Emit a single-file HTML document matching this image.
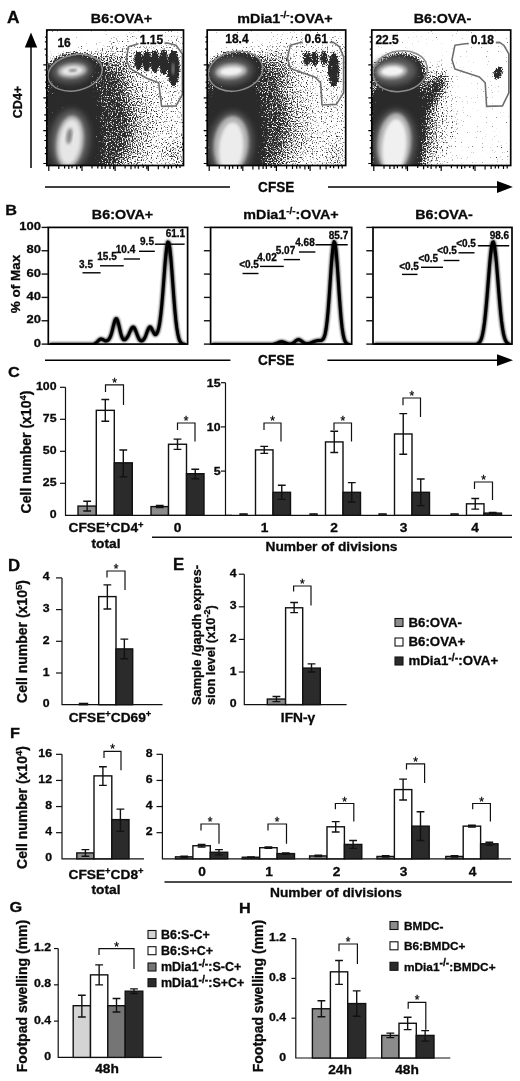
<!DOCTYPE html><html><head><meta charset="utf-8"><style>html,body{margin:0;padding:0;background:#fff}svg{display:block;opacity:0.999}text{font-family:"Liberation Sans",sans-serif;fill:#0a0a0a;stroke:#0a0a0a;stroke-width:.3px}</style></head><body>
<svg width="520" height="1081" viewBox="0 0 520 1081">
<rect width="520" height="1081" fill="#fff"/>
<!--A-->
<defs>
<filter id="thr0" filterUnits="userSpaceOnUse" x="46.8" y="30.0" width="136.7" height="135.5" color-interpolation-filters="sRGB"><feTurbulence type="fractalNoise" baseFrequency="0.8" numOctaves="1" seed="3" result="n"/><feColorMatrix in="n" type="matrix" values="0 0 0 0 0 0 0 0 0 0 0 0 0 0 0 1 0 0 0 0" result="na"/><feComposite in="SourceGraphic" in2="na" operator="arithmetic" k1="0" k2="3.9" k3="6" k4="-4.3" result="t"/><feGaussianBlur in="t" stdDeviation="0.35" result="t2"/><feFlood flood-color="#2a2a2a"/><feComposite operator="in" in2="t2"/></filter>
<filter id="thr1" filterUnits="userSpaceOnUse" x="207.2" y="30.0" width="138.5" height="135.5" color-interpolation-filters="sRGB"><feTurbulence type="fractalNoise" baseFrequency="0.8" numOctaves="1" seed="10" result="n"/><feColorMatrix in="n" type="matrix" values="0 0 0 0 0 0 0 0 0 0 0 0 0 0 0 1 0 0 0 0" result="na"/><feComposite in="SourceGraphic" in2="na" operator="arithmetic" k1="0" k2="3.9" k3="6" k4="-4.3" result="t"/><feGaussianBlur in="t" stdDeviation="0.35" result="t2"/><feFlood flood-color="#2a2a2a"/><feComposite operator="in" in2="t2"/></filter>
<filter id="thr2" filterUnits="userSpaceOnUse" x="371.8" y="30.0" width="138.9" height="135.5" color-interpolation-filters="sRGB"><feTurbulence type="fractalNoise" baseFrequency="0.8" numOctaves="1" seed="17" result="n"/><feColorMatrix in="n" type="matrix" values="0 0 0 0 0 0 0 0 0 0 0 0 0 0 0 1 0 0 0 0" result="na"/><feComposite in="SourceGraphic" in2="na" operator="arithmetic" k1="0" k2="3.9" k3="6" k4="-4.3" result="t"/><feGaussianBlur in="t" stdDeviation="0.35" result="t2"/><feFlood flood-color="#2a2a2a"/><feComposite operator="in" in2="t2"/></filter>
<filter id="ba" x="-50%" y="-50%" width="200%" height="200%"><feGaussianBlur stdDeviation="7"/></filter><filter id="bb" x="-50%" y="-50%" width="200%" height="200%"><feGaussianBlur stdDeviation="3.5"/></filter><filter id="bc" x="-50%" y="-50%" width="200%" height="200%"><feGaussianBlur stdDeviation="1.1"/></filter>
<filter id="bl4" x="-50%" y="-50%" width="200%" height="200%"><feGaussianBlur stdDeviation="3.2"/></filter><filter id="bl2"><feGaussianBlur stdDeviation="1.6"/></filter><filter id="bl1"><feGaussianBlur stdDeviation="0.9"/></filter>
</defs>
<clipPath id="cpA0"><rect x="46.8" y="30.0" width="136.7" height="135.5"/></clipPath>
<g clip-path="url(#cpA0)">
<g filter="url(#thr0)">
<g filter="url(#ba)">
<polygon points="40.5,97.2 92.4,48.2 127.0,33.7 190.4,33.7 190.4,175.1 40.5,175.1" fill="#000" opacity="0.2"/>
<ellipse cx="78.0" cy="123.2" rx="53.4" ry="62.0" fill="#1e1e1e" opacity="0.45" />
<ellipse cx="83.7" cy="123.2" rx="70.7" ry="69.2" fill="#1e1e1e" opacity="0.2" />
<ellipse cx="114.0" cy="68.4" rx="17.3" ry="17.3" fill="#1e1e1e" opacity="0.25" />
<ellipse cx="174.6" cy="154.9" rx="7.2" ry="17.3" fill="#1e1e1e" opacity="0.3" />
</g>
<g filter="url(#bb)">
<ellipse cx="72.8" cy="71.8" rx="26.5" ry="17.9" transform="rotate(-8 72.8 71.8)" fill="#1e1e1e" opacity="1.0" />
<ellipse cx="69.3" cy="137.6" rx="24.5" ry="40.4" fill="#1e1e1e" opacity="1.0" />
<ellipse cx="75.1" cy="111.6" rx="23.1" ry="31.7" fill="#1e1e1e" opacity="0.9" />
<polygon points="46.8,91.4 95.3,91.4 99.6,120.3 98.1,169.3 46.8,169.3" fill="#1e1e1e" opacity="1.0"/>
</g>
<g filter="url(#bc)">
<ellipse cx="138.5" cy="60.6" rx="3.9" ry="8.9" fill="#1e1e1e" opacity="1" />
<ellipse cx="146.6" cy="60.9" rx="3.7" ry="10.4" fill="#1e1e1e" opacity="1" />
<ellipse cx="155.0" cy="61.4" rx="3.9" ry="11.2" fill="#1e1e1e" opacity="1" />
<ellipse cx="163.6" cy="62.3" rx="3.6" ry="12.7" fill="#1e1e1e" opacity="1" />
<ellipse cx="173.4" cy="68.1" rx="5.8" ry="17.6" fill="#1e1e1e" opacity="1" />
</g>
</g>
<ellipse cx="71.6" cy="70.7" rx="20.2" ry="12.1" transform="rotate(-5 71.6 70.7)" fill="#606060" opacity="1" filter="url(#bl4)"/>
<ellipse cx="69.9" cy="140.5" rx="19.6" ry="31.2" transform="rotate(6 69.9 140.5)" fill="#606060" opacity="1" filter="url(#bl4)"/>
<ellipse cx="72.2" cy="70.7" rx="14.4" ry="7.2" transform="rotate(-5 72.2 70.7)" fill="#b4b4b4" opacity="1" filter="url(#bl2)"/>
<ellipse cx="72.2" cy="70.7" rx="10.4" ry="4.3" transform="rotate(-5 72.2 70.7)" fill="#e8e8e8" opacity="1" filter="url(#bl1)"/>
<ellipse cx="72.8" cy="70.4" rx="4.3" ry="1.4" transform="rotate(-5 72.8 70.4)" fill="#858585" opacity="1" filter="url(#bl1)"/>
<ellipse cx="69.9" cy="141.9" rx="13.8" ry="26.5" transform="rotate(7 69.9 141.9)" fill="#b8b8b8" opacity="1" filter="url(#bl2)"/>
<ellipse cx="69.9" cy="141.9" rx="10.4" ry="22.5" transform="rotate(7 69.9 141.9)" fill="#e6e6e6" opacity="1" filter="url(#bl2)"/>
<ellipse cx="69.3" cy="136.1" rx="2.9" ry="8.1" transform="rotate(8 69.3 136.1)" fill="#858585" opacity="1" filter="url(#bl2)"/>
<ellipse cx="173.1" cy="68.9" rx="1.4" ry="6.3" fill="#777" opacity="1" filter="url(#bl1)"/>
<ellipse cx="75.1" cy="72.7" rx="27.4" ry="17.9" transform="rotate(-12 75.1 72.7)" fill="none" stroke="#8c8c8c" stroke-width="1.5"/>
<polygon points="138.5,43.8 128.4,46.7 126.4,59.7 129.9,68.4 147.2,78.5 158.7,82.8 161.6,106.4 176.0,105.9 182.4,94.3 182.4,53.9 176.0,45.3 167.4,43.0" fill="none" stroke="#6e6e6e" stroke-width="1.6" stroke-linejoin="round"/>
<text font-size="12" text-anchor="middle" font-weight="bold" transform="translate(64.1 47.3) scale(1.0 1)" >16</text>
<rect x="138.5" y="34.6" width="26" height="11" fill="#fff"/>
<text font-size="12" text-anchor="middle" font-weight="bold" transform="translate(151.5 44.4) scale(1.0 1)" >1.15</text>
</g>
<rect x="46.8" y="30.0" width="136.7" height="135.5" fill="none" stroke="#000" stroke-width="1.7"/>
<path d="M48.8 165.5v5.5M58.8 165.5v3.4M64.6 165.5v3.1M68.8 165.5v3.4M72.0 165.5v2.8M76.8 165.5v3.7M80.5 165.5v2.7M46.8 163.5h-3.5M46.8 153.6h-2.0M46.8 147.8h-1.8M46.8 140.5h-2.5M46.8 135.7h-1.5M82.0 165.5v5.5M92.0 165.5v3.1M97.8 165.5v2.9M101.9 165.5v3.5M105.2 165.5v3.2M110.0 165.5v3.5M113.6 165.5v3.7M46.8 130.6h-3.5M46.8 120.7h-2.5M46.8 114.9h-2.5M46.8 107.6h-1.5M46.8 102.8h-1.6M115.1 165.5v5.5M125.1 165.5v3.0M131.0 165.5v3.8M135.1 165.5v3.0M138.3 165.5v3.3M143.2 165.5v2.6M146.8 165.5v3.8M46.8 97.8h-3.5M46.8 87.9h-1.7M46.8 82.1h-1.7M46.8 74.8h-1.5M46.8 70.0h-2.3M148.3 165.5v5.5M158.3 165.5v3.8M164.2 165.5v2.7M168.3 165.5v3.4M171.5 165.5v3.1M176.4 165.5v2.7M180.0 165.5v2.6M46.8 64.9h-3.5M46.8 55.0h-1.7M46.8 49.2h-2.3M46.8 41.9h-1.9M46.8 37.1h-1.7" stroke="#000" stroke-width="1.2" fill="none"/>
<clipPath id="cpA1"><rect x="207.2" y="30.0" width="138.5" height="135.5"/></clipPath>
<g clip-path="url(#cpA1)">
<g filter="url(#thr1)">
<g filter="url(#ba)">
<polygon points="200.9,97.2 252.8,48.2 287.4,33.7 350.8,33.7 350.8,175.1 200.9,175.1" fill="#000" opacity="0.2"/>
<ellipse cx="241.2" cy="123.2" rx="46.1" ry="62.0" fill="#1e1e1e" opacity="0.42" />
<ellipse cx="247.0" cy="123.2" rx="63.5" ry="69.2" fill="#1e1e1e" opacity="0.2" />
<ellipse cx="275.8" cy="68.4" rx="17.3" ry="17.3" fill="#1e1e1e" opacity="0.25" />
<ellipse cx="336.4" cy="154.9" rx="6.3" ry="17.3" fill="#1e1e1e" opacity="0.25" />
</g>
<g filter="url(#bb)">
<ellipse cx="234.0" cy="71.2" rx="27.4" ry="18.7" transform="rotate(-8 234.0 71.2)" fill="#1e1e1e" opacity="1.0" />
<ellipse cx="232.6" cy="140.5" rx="26.0" ry="40.4" fill="#1e1e1e" opacity="1.0" />
<ellipse cx="236.9" cy="111.6" rx="23.7" ry="31.7" fill="#1e1e1e" opacity="0.9" />
<polygon points="207.2,91.4 255.7,91.4 262.0,120.3 260.8,169.3 207.2,169.3" fill="#1e1e1e" opacity="1.0"/>
</g>
<g filter="url(#bc)">
<ellipse cx="307.0" cy="58.6" rx="3.7" ry="7.2" fill="#1e1e1e" opacity="0.75" />
<ellipse cx="314.8" cy="58.6" rx="3.7" ry="7.2" fill="#1e1e1e" opacity="0.75" />
<ellipse cx="324.0" cy="58.0" rx="3.7" ry="7.2" fill="#1e1e1e" opacity="0.75" />
<ellipse cx="333.8" cy="69.8" rx="5.5" ry="16.7" fill="#1e1e1e" opacity="0.85" />
</g>
</g>
<ellipse cx="231.1" cy="71.2" rx="21.6" ry="13.0" transform="rotate(-5 231.1 71.2)" fill="#606060" opacity="1" filter="url(#bl4)"/>
<ellipse cx="231.1" cy="144.8" rx="21.6" ry="33.2" transform="rotate(5 231.1 144.8)" fill="#606060" opacity="1" filter="url(#bl4)"/>
<ellipse cx="231.1" cy="71.2" rx="15.6" ry="7.5" transform="rotate(-5 231.1 71.2)" fill="#b8b8b8" opacity="1" filter="url(#bl2)"/>
<ellipse cx="231.1" cy="71.2" rx="11.0" ry="4.0" transform="rotate(-5 231.1 71.2)" fill="#f2f2f2" opacity="1" filter="url(#bl1)"/>
<ellipse cx="231.1" cy="144.8" rx="17.3" ry="28.8" transform="rotate(5 231.1 144.8)" fill="#b4b4b4" opacity="1" filter="url(#bl2)"/>
<ellipse cx="231.1" cy="147.7" rx="12.1" ry="25.4" transform="rotate(5 231.1 147.7)" fill="#ececec" opacity="1" filter="url(#bl2)"/>
<ellipse cx="235.5" cy="71.2" rx="27.4" ry="19.6" transform="rotate(-12 235.5 71.2)" fill="none" stroke="#8c8c8c" stroke-width="1.5"/>
<polygon points="300.4,42.4 290.3,45.3 287.4,58.3 290.3,68.4 314.8,77.0 320.6,82.8 322.0,105.0 336.4,104.4 343.6,92.9 343.6,56.8 339.3,46.7 333.5,42.4" fill="none" stroke="#6e6e6e" stroke-width="1.6" stroke-linejoin="round"/>
<text font-size="12" text-anchor="middle" font-weight="bold" transform="translate(236.9 43.2) scale(1.0 1)" >18.4</text>
<rect x="302.7" y="33.4" width="27" height="11" fill="#fff"/>
<text font-size="12" text-anchor="middle" font-weight="bold" transform="translate(316.2 43.2) scale(1.0 1)" >0.61</text>
</g>
<rect x="207.2" y="30.0" width="138.5" height="135.5" fill="none" stroke="#000" stroke-width="1.7"/>
<path d="M209.2 165.5v5.5M219.3 165.5v3.2M225.2 165.5v3.3M229.4 165.5v3.9M232.7 165.5v3.2M237.6 165.5v3.4M241.3 165.5v3.3M207.2 163.5h-3.5M207.2 153.6h-2.1M207.2 147.8h-2.3M207.2 140.5h-1.8M207.2 135.7h-2.3M242.8 165.5v5.5M252.9 165.5v4.0M258.9 165.5v3.9M263.1 165.5v3.5M266.3 165.5v3.4M271.2 165.5v2.5M274.9 165.5v2.6M207.2 130.6h-3.5M207.2 120.7h-1.7M207.2 114.9h-1.7M207.2 107.6h-2.0M207.2 102.8h-2.3M276.4 165.5v5.5M286.6 165.5v3.2M292.5 165.5v3.5M296.7 165.5v3.2M300.0 165.5v2.9M304.9 165.5v4.0M308.5 165.5v3.6M207.2 97.8h-3.5M207.2 87.9h-1.8M207.2 82.1h-1.7M207.2 74.8h-1.6M207.2 70.0h-1.9M310.1 165.5v5.5M320.2 165.5v3.9M326.1 165.5v3.8M330.3 165.5v2.5M333.6 165.5v2.8M338.5 165.5v3.2M342.2 165.5v3.1M207.2 64.9h-3.5M207.2 55.0h-1.6M207.2 49.2h-2.1M207.2 41.9h-1.8M207.2 37.1h-1.8" stroke="#000" stroke-width="1.2" fill="none"/>
<clipPath id="cpA2"><rect x="371.8" y="30.0" width="138.9" height="135.5"/></clipPath>
<g clip-path="url(#cpA2)">
<g filter="url(#thr2)">
<g filter="url(#ba)">
<polygon points="365.5,97.2 417.4,48.2 452.0,33.7 515.4,33.7 515.4,175.1 365.5,175.1" fill="#000" opacity="0.02"/>
<ellipse cx="400.1" cy="126.0" rx="36.1" ry="54.8" fill="#1e1e1e" opacity="0.4" />
<ellipse cx="403.0" cy="126.0" rx="54.8" ry="63.5" fill="#1e1e1e" opacity="0.2" />
<ellipse cx="433.2" cy="87.1" rx="21.6" ry="10.1" transform="rotate(-45 433.2 87.1)" fill="#1e1e1e" opacity="0.45" />
<ellipse cx="498.7" cy="154.9" rx="5.2" ry="11.5" fill="#1e1e1e" opacity="0.25" />
</g>
<g filter="url(#bb)">
<ellipse cx="398.6" cy="72.7" rx="26.0" ry="18.7" transform="rotate(-8 398.6 72.7)" fill="#1e1e1e" opacity="1.0" />
<ellipse cx="394.3" cy="140.5" rx="23.1" ry="40.4" fill="#1e1e1e" opacity="1.0" />
<ellipse cx="403.0" cy="111.6" rx="20.2" ry="28.8" fill="#1e1e1e" opacity="0.9" />
<ellipse cx="432.4" cy="95.8" rx="25.4" ry="5.8" transform="rotate(-60 432.4 95.8)" fill="#1e1e1e" opacity="0.4" />
<polygon points="371.8,91.4 420.3,91.4 423.1,120.3 418.8,169.3 371.8,169.3" fill="#1e1e1e" opacity="1.0"/>
</g>
<g filter="url(#bc)">
<ellipse cx="498.1" cy="73.0" rx="4.0" ry="6.9" transform="rotate(25 498.1 73.0)" fill="#1e1e1e" opacity="0.85" />
</g>
</g>
<ellipse cx="393.7" cy="71.2" rx="22.5" ry="13.8" transform="rotate(-3 393.7 71.2)" fill="#606060" opacity="1" filter="url(#bl4)"/>
<ellipse cx="394.3" cy="143.4" rx="20.8" ry="34.0" transform="rotate(5 394.3 143.4)" fill="#606060" opacity="1" filter="url(#bl4)"/>
<ellipse cx="392.3" cy="71.2" rx="15.0" ry="7.8" transform="rotate(-3 392.3 71.2)" fill="#b0b0b0" opacity="1" filter="url(#bl2)"/>
<ellipse cx="392.3" cy="71.2" rx="11.0" ry="4.6" transform="rotate(-3 392.3 71.2)" fill="#f4f4f4" opacity="1" filter="url(#bl1)"/>
<ellipse cx="394.3" cy="143.4" rx="16.7" ry="30.3" transform="rotate(5 394.3 143.4)" fill="#b4b4b4" opacity="1" filter="url(#bl2)"/>
<ellipse cx="394.3" cy="146.2" rx="12.1" ry="27.4" transform="rotate(5 394.3 146.2)" fill="#f0f0f0" opacity="1" filter="url(#bl2)"/>
<ellipse cx="400.1" cy="71.2" rx="27.4" ry="20.2" transform="rotate(-10 400.1 71.2)" fill="none" stroke="#8c8c8c" stroke-width="1.5"/>
<polygon points="465.0,43.8 454.9,45.3 452.0,59.7 454.9,68.9 479.4,77.0 485.2,82.8 486.6,106.4 502.5,105.9 508.8,92.9 508.8,53.9 503.9,45.3 499.6,42.4" fill="none" stroke="#6e6e6e" stroke-width="1.6" stroke-linejoin="round"/>
<text font-size="12" text-anchor="middle" font-weight="bold" transform="translate(387.1 43.8) scale(1.0 1)" >22.5</text>
<rect x="468.8" y="34.6" width="27" height="11" fill="#fff"/>
<text font-size="12" text-anchor="middle" font-weight="bold" transform="translate(482.3 44.4) scale(1.0 1)" >0.18</text>
</g>
<rect x="371.8" y="30.0" width="138.9" height="135.5" fill="none" stroke="#000" stroke-width="1.7"/>
<path d="M373.8 165.5v5.5M384.0 165.5v3.2M389.9 165.5v3.5M394.1 165.5v3.5M397.4 165.5v2.7M402.3 165.5v3.1M406.0 165.5v3.7M371.8 163.5h-3.5M371.8 153.6h-2.2M371.8 147.8h-2.1M371.8 140.5h-2.2M371.8 135.7h-1.9M407.5 165.5v5.5M417.7 165.5v2.6M423.6 165.5v3.7M427.8 165.5v2.6M431.1 165.5v3.5M436.0 165.5v3.1M439.7 165.5v2.5M371.8 130.6h-3.5M371.8 120.7h-1.6M371.8 114.9h-2.4M371.8 107.6h-1.6M371.8 102.8h-2.4M441.2 165.5v5.5M451.4 165.5v2.7M457.3 165.5v3.0M461.6 165.5v3.4M464.8 165.5v2.7M469.8 165.5v2.6M473.4 165.5v3.7M371.8 97.8h-3.5M371.8 87.9h-1.9M371.8 82.1h-1.9M371.8 74.8h-2.0M371.8 70.0h-1.5M475.0 165.5v5.5M485.1 165.5v4.0M491.1 165.5v3.5M495.3 165.5v3.0M498.5 165.5v3.0M503.5 165.5v3.5M507.2 165.5v2.9M371.8 64.9h-3.5M371.8 55.0h-1.9M371.8 49.2h-2.0M371.8 41.9h-2.0M371.8 37.1h-2.3" stroke="#000" stroke-width="1.2" fill="none"/>
<text font-size="16.5" text-anchor="start" font-weight="bold" transform="translate(7 23.2) scale(1.05 1)" >A</text>
<text font-size="13" text-anchor="middle" font-weight="bold" transform="translate(121.5 23) scale(1.1 1)" >B6:OVA+</text>
<text font-size="13" text-anchor="middle" font-weight="bold" transform="translate(285 23) scale(1.1 1)" >mDia1<tspan font-size="9" dy="-5">-/-</tspan><tspan dy="5">:OVA+</tspan></text>
<text font-size="13" text-anchor="middle" font-weight="bold" transform="translate(442.5 23) scale(1.1 1)" >B6:OVA-</text>
<text x="22" y="102" font-size="12.5" text-anchor="middle" font-weight="bold" transform="rotate(-90 22 102)" >CD4+</text>
<path d="M31 168L31 45" stroke="#000" stroke-width="1.5" fill="none"/>
<path d="M31 32.5L37.2 47.5L24.8 47.5Z" stroke="#111" stroke-width="0" fill="#000" />
<path d="M45 186.9L230 186.9" stroke="#000" stroke-width="1.5" fill="none"/>
<text font-size="14" text-anchor="middle" font-weight="bold" transform="translate(276.2 191.7) scale(0.97 1)" >CFSE</text>
<path d="M328 186.9L498 186.9" stroke="#000" stroke-width="1.5" fill="none"/>
<path d="M512.8 186.9L497 180.9L497 192.9Z" stroke="#111" stroke-width="0" fill="#000" />
<!--B-->
<text font-size="15.5" text-anchor="start" font-weight="bold" transform="translate(5.3 215) scale(1.05 1)" >B</text>
<text font-size="13" text-anchor="middle" font-weight="bold" transform="translate(122.5 218.5) scale(1.1 1)" >B6:OVA+</text>
<text font-size="13" text-anchor="middle" font-weight="bold" transform="translate(291 218.5) scale(1.1 1)" >mDia1<tspan font-size="9" dy="-5">-/-</tspan><tspan dy="5">:OVA+</tspan></text>
<text font-size="13" text-anchor="middle" font-weight="bold" transform="translate(444 218.5) scale(1.1 1)" >B6:OVA-</text>
<rect x="48.30" y="227.40" width="139.30" height="116.70" fill="none" stroke="#000" stroke-width="1.7"/>
<path d="M41.599999999999994 344.1L48.3 344.1" stroke="#111" stroke-width="1.4" fill="none"/>
<path d="M41.599999999999994 320.76L48.3 320.76" stroke="#111" stroke-width="1.4" fill="none"/>
<path d="M41.599999999999994 297.42L48.3 297.42" stroke="#111" stroke-width="1.4" fill="none"/>
<path d="M41.599999999999994 274.08000000000004L48.3 274.08000000000004" stroke="#111" stroke-width="1.4" fill="none"/>
<path d="M41.599999999999994 250.74L48.3 250.74" stroke="#111" stroke-width="1.4" fill="none"/>
<path d="M41.599999999999994 227.4L48.3 227.4" stroke="#111" stroke-width="1.4" fill="none"/>
<rect x="210.60" y="227.40" width="141.10" height="116.70" fill="none" stroke="#000" stroke-width="1.7"/>
<path d="M203.9 344.1L210.6 344.1" stroke="#111" stroke-width="1.4" fill="none"/>
<path d="M203.9 320.76L210.6 320.76" stroke="#111" stroke-width="1.4" fill="none"/>
<path d="M203.9 297.42L210.6 297.42" stroke="#111" stroke-width="1.4" fill="none"/>
<path d="M203.9 274.08000000000004L210.6 274.08000000000004" stroke="#111" stroke-width="1.4" fill="none"/>
<path d="M203.9 250.74L210.6 250.74" stroke="#111" stroke-width="1.4" fill="none"/>
<path d="M203.9 227.4L210.6 227.4" stroke="#111" stroke-width="1.4" fill="none"/>
<rect x="373.00" y="227.40" width="139.00" height="116.70" fill="none" stroke="#000" stroke-width="1.7"/>
<path d="M366.3 344.1L373 344.1" stroke="#111" stroke-width="1.4" fill="none"/>
<path d="M366.3 320.76L373 320.76" stroke="#111" stroke-width="1.4" fill="none"/>
<path d="M366.3 297.42L373 297.42" stroke="#111" stroke-width="1.4" fill="none"/>
<path d="M366.3 274.08000000000004L373 274.08000000000004" stroke="#111" stroke-width="1.4" fill="none"/>
<path d="M366.3 250.74L373 250.74" stroke="#111" stroke-width="1.4" fill="none"/>
<path d="M366.3 227.4L373 227.4" stroke="#111" stroke-width="1.4" fill="none"/>
<text font-size="11.8" text-anchor="end" font-weight="bold" transform="translate(41 346.70000000000005) scale(1.1 1)" >0</text>
<text font-size="11.8" text-anchor="end" font-weight="bold" transform="translate(41 323.36) scale(1.1 1)" >20</text>
<text font-size="11.8" text-anchor="end" font-weight="bold" transform="translate(41 300.02000000000004) scale(1.1 1)" >40</text>
<text font-size="11.8" text-anchor="end" font-weight="bold" transform="translate(41 276.68000000000006) scale(1.1 1)" >60</text>
<text font-size="11.8" text-anchor="end" font-weight="bold" transform="translate(41 253.34) scale(1.1 1)" >80</text>
<text font-size="11.8" text-anchor="end" font-weight="bold" transform="translate(41 230.0) scale(1.1 1)" >100</text>
<text x="19.5" y="284" font-size="13.5" text-anchor="middle" font-weight="bold" transform="rotate(-90 19.5 284)" >% of Max</text>
<defs><filter id="hb" x="-5%" y="-5%" width="110%" height="110%"><feGaussianBlur stdDeviation="0.9"/></filter></defs>
<clipPath id="hc1"><rect x="48.3" y="220" width="139.3" height="124.69999999999999"/></clipPath>
<defs><path id="hp1" d="M49.8 344.6 L50.8 344.6 L51.8 344.6 L52.8 344.6 L53.8 344.6 L54.8 344.6 L55.8 344.6 L56.8 344.6 L57.8 344.6 L58.8 344.6 L59.8 344.6 L60.8 344.6 L61.8 344.6 L62.8 344.6 L63.8 344.6 L64.8 344.6 L65.8 344.6 L66.8 344.6 L67.8 344.6 L68.8 344.6 L69.8 344.6 L70.8 344.6 L71.8 344.6 L72.8 344.6 L73.8 344.6 L74.8 344.6 L75.8 344.6 L76.8 344.6 L77.8 344.6 L78.8 344.6 L79.8 344.6 L80.8 344.6 L81.8 344.6 L82.8 344.6 L83.8 344.6 L84.8 344.6 L85.8 344.6 L86.8 344.6 L87.8 344.6 L88.8 344.6 L89.8 344.6 L90.8 344.6 L91.8 344.5 L92.8 344.4 L93.8 344.2 L94.8 343.8 L95.8 343.1 L96.8 342.3 L97.8 341.3 L98.8 340.2 L99.8 339.4 L100.8 339.0 L101.8 339.1 L102.8 339.5 L103.8 340.2 L104.8 340.7 L105.8 341.0 L106.8 340.8 L107.8 340.3 L108.8 339.4 L109.8 337.8 L110.8 335.6 L111.8 332.4 L112.8 328.4 L113.8 324.2 L114.8 320.7 L115.8 318.7 L116.8 318.8 L117.8 321.0 L118.8 324.9 L119.8 329.4 L120.8 333.6 L121.8 336.9 L122.8 338.9 L123.8 339.8 L124.8 339.7 L125.8 339.1 L126.8 337.9 L127.8 336.4 L128.8 334.3 L129.8 332.0 L130.8 329.8 L131.8 327.9 L132.8 327.0 L133.8 327.2 L134.8 328.7 L135.8 331.0 L136.8 333.7 L137.8 336.4 L138.8 338.6 L139.8 340.1 L140.8 340.8 L141.8 340.9 L142.8 340.5 L143.8 339.4 L144.8 337.8 L145.8 335.5 L146.8 332.7 L147.8 330.0 L148.8 327.9 L149.8 326.8 L150.8 327.2 L151.8 328.8 L152.8 331.0 L153.8 333.1 L154.8 334.5 L155.8 334.7 L156.8 333.7 L157.8 331.4 L158.8 327.7 L159.8 322.2 L160.8 314.6 L161.8 304.9 L162.8 293.1 L163.8 280.0 L164.8 266.8 L165.8 255.1 L166.8 246.4 L167.8 242.0 L168.8 242.5 L169.8 247.9 L170.8 257.4 L171.8 269.8 L172.8 283.5 L173.8 297.1 L174.8 309.5 L175.8 319.9 L176.8 328.0 L177.8 334.0 L178.8 338.2 L179.8 340.9 L180.8 342.6 L181.8 343.5 L182.8 344.1 L183.8 344.3 L184.8 344.5 L185.8 344.6" fill="none" stroke-linejoin="round"/></defs>
<g clip-path="url(#hc1)" stroke="#000"><use href="#hp1" stroke-width="4" filter="url(#hb)" opacity="0.85"/>
<use href="#hp1" stroke-width="3"/></g>
<path d="M82.5 272.8L100.6 272.8" stroke="#000" stroke-width="1.4" fill="none"/>
<text font-size="10" text-anchor="middle" font-weight="bold" transform="translate(86 268) scale(1.0 1)" >3.5</text>
<path d="M100 265.8L123.7 265.8" stroke="#000" stroke-width="1.4" fill="none"/>
<text font-size="10" text-anchor="middle" font-weight="bold" transform="translate(107 260.2) scale(1.0 1)" >15.5</text>
<path d="M123.7 259L140 259" stroke="#000" stroke-width="1.4" fill="none"/>
<text font-size="10" text-anchor="middle" font-weight="bold" transform="translate(125.5 252.5) scale(1.0 1)" >10.4</text>
<path d="M139 251.3L154.8 251.3" stroke="#000" stroke-width="1.4" fill="none"/>
<text font-size="10" text-anchor="middle" font-weight="bold" transform="translate(147 244.8) scale(1.0 1)" >9.5</text>
<path d="M154.8 244.2L184.6 244.2" stroke="#000" stroke-width="1.4" fill="none"/>
<text font-size="10" text-anchor="middle" font-weight="bold" transform="translate(175.4 236.5) scale(1.0 1)" >61.1</text>
<clipPath id="hc2"><rect x="210.6" y="220" width="141.1" height="124.69999999999999"/></clipPath>
<defs><path id="hp2" d="M212.1 344.6 L213.1 344.6 L214.1 344.6 L215.1 344.6 L216.1 344.6 L217.1 344.6 L218.1 344.6 L219.1 344.6 L220.1 344.6 L221.1 344.6 L222.1 344.6 L223.1 344.6 L224.1 344.6 L225.1 344.6 L226.1 344.6 L227.1 344.6 L228.1 344.6 L229.1 344.6 L230.1 344.6 L231.1 344.6 L232.1 344.6 L233.1 344.6 L234.1 344.6 L235.1 344.6 L236.1 344.6 L237.1 344.6 L238.1 344.6 L239.1 344.6 L240.1 344.6 L241.1 344.6 L242.1 344.6 L243.1 344.6 L244.1 344.6 L245.1 344.6 L246.1 344.6 L247.1 344.6 L248.1 344.6 L249.1 344.6 L250.1 344.6 L251.1 344.6 L252.1 344.6 L253.1 344.6 L254.1 344.6 L255.1 344.6 L256.1 344.6 L257.1 344.6 L258.1 344.6 L259.1 344.6 L260.1 344.6 L261.1 344.6 L262.1 344.6 L263.1 344.6 L264.1 344.6 L265.1 344.6 L266.1 344.6 L267.1 344.6 L268.1 344.6 L269.1 344.6 L270.1 344.6 L271.1 344.5 L272.1 344.4 L273.1 344.3 L274.1 344.1 L275.1 343.8 L276.1 343.5 L277.1 343.1 L278.1 342.6 L279.1 342.3 L280.1 342.0 L281.1 341.8 L282.1 341.8 L283.1 342.0 L284.1 342.3 L285.1 342.7 L286.1 343.1 L287.1 343.5 L288.1 343.8 L289.1 344.0 L290.1 344.0 L291.1 343.9 L292.1 343.6 L293.1 343.0 L294.1 342.3 L295.1 341.5 L296.1 340.6 L297.1 340.0 L298.1 339.6 L299.1 339.7 L300.1 340.1 L301.1 340.7 L302.1 341.6 L303.1 342.3 L304.1 343.0 L305.1 343.4 L306.1 343.7 L307.1 343.7 L308.1 343.6 L309.1 343.4 L310.1 343.1 L311.1 342.7 L312.1 342.3 L313.1 341.9 L314.1 341.5 L315.1 341.2 L316.1 340.9 L317.1 340.7 L318.1 340.6 L319.1 340.5 L320.1 340.5 L321.1 340.4 L322.1 340.0 L323.1 339.2 L324.1 337.3 L325.1 334.1 L326.1 328.9 L327.1 321.1 L328.1 310.7 L329.1 297.7 L330.1 283.0 L331.1 268.2 L332.1 255.1 L333.1 245.7 L334.1 241.6 L335.1 243.5 L336.1 251.0 L337.1 263.0 L338.1 277.5 L339.1 292.7 L340.1 306.7 L341.1 318.6 L342.1 327.7 L343.1 334.3 L344.1 338.7 L345.1 341.4 L346.1 343.0 L347.1 343.8 L348.1 344.2 L349.1 344.4 L350.1 344.5" fill="none" stroke-linejoin="round"/></defs>
<g clip-path="url(#hc2)" stroke="#000"><use href="#hp2" stroke-width="4" filter="url(#hb)" opacity="0.85"/>
<use href="#hp2" stroke-width="3"/></g>
<path d="M242.5 273.5L258.5 273.5" stroke="#000" stroke-width="1.4" fill="none"/>
<text font-size="10" text-anchor="middle" font-weight="bold" transform="translate(249 268) scale(1.0 1)" >&lt;0.5</text>
<path d="M260 266.4L283.7 266.4" stroke="#000" stroke-width="1.4" fill="none"/>
<text font-size="10" text-anchor="middle" font-weight="bold" transform="translate(267 261) scale(1.0 1)" >4.02</text>
<path d="M283.7 259.6L300 259.6" stroke="#000" stroke-width="1.4" fill="none"/>
<text font-size="10" text-anchor="middle" font-weight="bold" transform="translate(285.5 253.5) scale(1.0 1)" >5.07</text>
<path d="M299 252L315.4 252" stroke="#000" stroke-width="1.4" fill="none"/>
<text font-size="10" text-anchor="middle" font-weight="bold" transform="translate(305 245.8) scale(1.0 1)" >4.68</text>
<path d="M315.4 244.8L347.7 244.8" stroke="#000" stroke-width="1.4" fill="none"/>
<text font-size="10" text-anchor="middle" font-weight="bold" transform="translate(338.5 238.7) scale(1.0 1)" >85.7</text>
<clipPath id="hc3"><rect x="373" y="220" width="139" height="124.69999999999999"/></clipPath>
<defs><path id="hp3" d="M374.5 344.6 L375.5 344.6 L376.5 344.6 L377.5 344.6 L378.5 344.6 L379.5 344.6 L380.5 344.6 L381.5 344.6 L382.5 344.6 L383.5 344.6 L384.5 344.6 L385.5 344.6 L386.5 344.6 L387.5 344.6 L388.5 344.6 L389.5 344.6 L390.5 344.6 L391.5 344.6 L392.5 344.6 L393.5 344.6 L394.5 344.6 L395.5 344.6 L396.5 344.6 L397.5 344.6 L398.5 344.6 L399.5 344.6 L400.5 344.6 L401.5 344.6 L402.5 344.6 L403.5 344.6 L404.5 344.6 L405.5 344.6 L406.5 344.6 L407.5 344.6 L408.5 344.6 L409.5 344.6 L410.5 344.6 L411.5 344.6 L412.5 344.6 L413.5 344.6 L414.5 344.6 L415.5 344.6 L416.5 344.6 L417.5 344.6 L418.5 344.6 L419.5 344.6 L420.5 344.6 L421.5 344.6 L422.5 344.6 L423.5 344.6 L424.5 344.6 L425.5 344.6 L426.5 344.6 L427.5 344.6 L428.5 344.6 L429.5 344.6 L430.5 344.6 L431.5 344.6 L432.5 344.6 L433.5 344.6 L434.5 344.6 L435.5 344.6 L436.5 344.6 L437.5 344.6 L438.5 344.6 L439.5 344.6 L440.5 344.6 L441.5 344.6 L442.5 344.6 L443.5 344.6 L444.5 344.6 L445.5 344.6 L446.5 344.6 L447.5 344.6 L448.5 344.6 L449.5 344.6 L450.5 344.6 L451.5 344.6 L452.5 344.6 L453.5 344.6 L454.5 344.6 L455.5 344.6 L456.5 344.6 L457.5 344.6 L458.5 344.6 L459.5 344.6 L460.5 344.6 L461.5 344.6 L462.5 344.6 L463.5 344.6 L464.5 344.6 L465.5 344.6 L466.5 344.6 L467.5 344.6 L468.5 344.6 L469.5 344.6 L470.5 344.6 L471.5 344.6 L472.5 344.6 L473.5 344.6 L474.5 344.5 L475.5 344.4 L476.5 344.3 L477.5 344.0 L478.5 343.4 L479.5 342.4 L480.5 340.8 L481.5 338.4 L482.5 334.7 L483.5 329.5 L484.5 322.5 L485.5 313.7 L486.5 303.0 L487.5 291.0 L488.5 278.3 L489.5 266.0 L490.5 255.1 L491.5 246.9 L492.5 242.4 L493.5 241.9 L494.5 245.7 L495.5 253.2 L496.5 263.6 L497.5 275.8 L498.5 288.5 L499.5 300.7 L500.5 311.7 L501.5 320.9 L502.5 328.2 L503.5 333.8 L504.5 337.7 L505.5 340.4 L506.5 342.2 L507.5 343.2 L508.5 343.9 L509.5 344.2 L510.5 344.4" fill="none" stroke-linejoin="round"/></defs>
<g clip-path="url(#hc3)" stroke="#000"><use href="#hp3" stroke-width="4" filter="url(#hb)" opacity="0.85"/>
<use href="#hp3" stroke-width="3"/></g>
<path d="M402 274.4L417.5 274.4" stroke="#000" stroke-width="1.4" fill="none"/>
<text font-size="10" text-anchor="middle" font-weight="bold" transform="translate(409 269.5) scale(1.0 1)" >&lt;0.5</text>
<path d="M421 267.3L443 267.3" stroke="#000" stroke-width="1.4" fill="none"/>
<text font-size="10" text-anchor="middle" font-weight="bold" transform="translate(428.3 261.8) scale(1.0 1)" >&lt;0.5</text>
<path d="M443.7 260.5L459.4 260.5" stroke="#000" stroke-width="1.4" fill="none"/>
<text font-size="10" text-anchor="middle" font-weight="bold" transform="translate(447 254) scale(1.0 1)" >&lt;0.5</text>
<path d="M458.5 252.8L474.5 252.8" stroke="#000" stroke-width="1.4" fill="none"/>
<text font-size="10" text-anchor="middle" font-weight="bold" transform="translate(466 246.7) scale(1.0 1)" >&lt;0.5</text>
<path d="M477.8 245.8L509.2 245.8" stroke="#000" stroke-width="1.4" fill="none"/>
<text font-size="10" text-anchor="middle" font-weight="bold" transform="translate(499.4 239) scale(1.0 1)" >98.6</text>
<path d="M45 360.2L230.4 360.2" stroke="#000" stroke-width="1.5" fill="none"/>
<text font-size="14" text-anchor="middle" font-weight="bold" transform="translate(276.2 365.2) scale(0.97 1)" >CFSE</text>
<path d="M327.4 360.2L498 360.2" stroke="#000" stroke-width="1.5" fill="none"/>
<path d="M513 360.2L497 354.3L497 366.1Z" stroke="#111" stroke-width="0" fill="#000" />
<!--C-->
<text font-size="15.5" text-anchor="start" font-weight="bold" transform="translate(8 376.5) scale(1.05 1)" >C</text>
<path d="M65.5 387.30L65.5 515.3L232 515.3" stroke="#111" stroke-width="1.2" fill="none" />
<path d="M60 483.29999999999995L65.5 483.29999999999995" stroke="#111" stroke-width="1.2" fill="none"/>
<path d="M60 451.29999999999995L65.5 451.29999999999995" stroke="#111" stroke-width="1.2" fill="none"/>
<path d="M60 419.29999999999995L65.5 419.29999999999995" stroke="#111" stroke-width="1.2" fill="none"/>
<path d="M60 387.29999999999995L65.5 387.29999999999995" stroke="#111" stroke-width="1.2" fill="none"/>
<text font-size="11" text-anchor="end" font-weight="bold" transform="translate(56.5 517.8) scale(1.12 1)" >0</text>
<text font-size="11" text-anchor="end" font-weight="bold" transform="translate(56.5 485.79999999999995) scale(1.12 1)" >25</text>
<text font-size="11" text-anchor="end" font-weight="bold" transform="translate(56.5 453.79999999999995) scale(1.12 1)" >50</text>
<text font-size="11" text-anchor="end" font-weight="bold" transform="translate(56.5 421.79999999999995) scale(1.12 1)" >75</text>
<text font-size="11" text-anchor="end" font-weight="bold" transform="translate(56.5 389.79999999999995) scale(1.12 1)" >100</text>
<text x="30.5" y="452" font-size="14" text-anchor="middle" font-weight="bold" transform="rotate(-90 30.5 452)" >Cell number (x10<tspan font-size="9.5" dy="-5">4</tspan><tspan dy="5">)</tspan></text>
<rect x="78.00" y="506.08" width="18.30" height="9.22" fill="#8c8c8c" stroke="#111" stroke-width="1.4"/>
<path d="M87.15 501.22L87.15 510.95M83.25 501.22h7.8M83.25 510.95h7.8" stroke="#111" stroke-width="1.4" fill="none" />
<rect x="96.30" y="410.34" width="18.00" height="104.96" fill="#fff" stroke="#111" stroke-width="1.4"/>
<path d="M105.30 399.46L105.30 421.22M101.40 399.46h7.8M101.40 421.22h7.8" stroke="#111" stroke-width="1.4" fill="none" />
<rect x="114.30" y="462.82" width="18.00" height="52.48" fill="#2b2b2b" stroke="#111" stroke-width="1.4"/>
<path d="M123.30 450.02L123.30 476.90M119.40 450.02h7.8M119.40 476.90h7.8" stroke="#111" stroke-width="1.4" fill="none" />
<path d="M105.50 392.00L105.50 384.80L123.50 384.80L123.50 405.00" stroke="#111" stroke-width="1.2" fill="none" />
<text font-size="12" text-anchor="middle" font-weight="normal" transform="translate(114.5 386.9) scale(1 1)" >*</text>
<rect x="151.00" y="506.60" width="17.50" height="8.70" fill="#8c8c8c" stroke="#111" stroke-width="1.4"/>
<path d="M159.75 505.57L159.75 507.62M155.85 505.57h7.8M155.85 507.62h7.8" stroke="#111" stroke-width="1.4" fill="none" />
<rect x="168.50" y="444.26" width="18.00" height="71.04" fill="#fff" stroke="#111" stroke-width="1.4"/>
<path d="M177.50 439.14L177.50 449.38M173.60 439.14h7.8M173.60 449.38h7.8" stroke="#111" stroke-width="1.4" fill="none" />
<rect x="186.50" y="473.70" width="17.50" height="41.60" fill="#2b2b2b" stroke="#111" stroke-width="1.4"/>
<path d="M195.25 469.22L195.25 478.82M191.35 469.22h7.8M191.35 478.82h7.8" stroke="#111" stroke-width="1.4" fill="none" />
<path d="M177.50 430.00L177.50 423.00L195.00 423.00L195.00 441.50" stroke="#111" stroke-width="1.2" fill="none" />
<text font-size="12" text-anchor="middle" font-weight="normal" transform="translate(186.2 425.1) scale(1 1)" >*</text>
<text font-size="12.5" text-anchor="middle" font-weight="bold" transform="translate(106 532) scale(1.1 1)" >CFSE<tspan font-size="8.5" dy="-4.5">+</tspan><tspan dy="4.5">CD4</tspan><tspan font-size="8.5" dy="-4.5">+</tspan></text>
<text font-size="12.5" text-anchor="middle" font-weight="bold" transform="translate(106 548) scale(1.1 1)" >total</text>
<text font-size="12.5" text-anchor="middle" font-weight="bold" transform="translate(177.5 532) scale(1.1 1)" >0</text>
<path d="M152 537.2L512 537.2" stroke="#111" stroke-width="1.5" fill="none"/>
<text font-size="12.5" text-anchor="middle" font-weight="bold" transform="translate(331.5 551) scale(1.1 1)" >Number of divisions</text>
<path d="M225.5 382.70L225.5 515.3L512 515.3" stroke="#111" stroke-width="1.2" fill="none" />
<path d="M221 471.09999999999997L225.5 471.09999999999997" stroke="#111" stroke-width="1.2" fill="none"/>
<text font-size="11" text-anchor="end" font-weight="bold" transform="translate(220.5 474.9) scale(1.12 1)" >5</text>
<path d="M221 426.9L225.5 426.9" stroke="#111" stroke-width="1.2" fill="none"/>
<text font-size="11" text-anchor="end" font-weight="bold" transform="translate(220.5 430.7) scale(1.12 1)" >10</text>
<path d="M221 382.69999999999993L225.5 382.69999999999993" stroke="#111" stroke-width="1.2" fill="none"/>
<text font-size="11" text-anchor="end" font-weight="bold" transform="translate(220.5 386.49999999999994) scale(1.12 1)" >15</text>
<rect x="239.80" y="513.70" width="7.50" height="1.60" fill="#222" stroke="#111" stroke-width="0.8"/>
<rect x="255.50" y="449.88" width="17.50" height="65.42" fill="#fff" stroke="#111" stroke-width="1.4"/>
<path d="M264.25 446.35L264.25 453.42M260.35 446.35h7.8M260.35 453.42h7.8" stroke="#111" stroke-width="1.4" fill="none" />
<rect x="273.00" y="492.32" width="17.50" height="22.98" fill="#2b2b2b" stroke="#111" stroke-width="1.4"/>
<path d="M281.75 485.24L281.75 499.39M277.85 485.24h7.8M277.85 499.39h7.8" stroke="#111" stroke-width="1.4" fill="none" />
<path d="M264.00 430.00L264.00 423.00L281.00 423.00L281.00 441.50" stroke="#111" stroke-width="1.2" fill="none" />
<text font-size="12" text-anchor="middle" font-weight="normal" transform="translate(272.5 425.1) scale(1 1)" >*</text>
<text font-size="12.5" text-anchor="middle" font-weight="bold" transform="translate(264.5 532) scale(1.1 1)" >1</text>
<rect x="309.80" y="513.70" width="7.50" height="1.60" fill="#222" stroke="#111" stroke-width="0.8"/>
<rect x="325.50" y="441.93" width="17.50" height="73.37" fill="#fff" stroke="#111" stroke-width="1.4"/>
<path d="M334.25 431.32L334.25 452.54M330.35 431.32h7.8M330.35 452.54h7.8" stroke="#111" stroke-width="1.4" fill="none" />
<rect x="343.00" y="492.32" width="17.50" height="22.98" fill="#2b2b2b" stroke="#111" stroke-width="1.4"/>
<path d="M351.75 482.59L351.75 502.04M347.85 482.59h7.8M347.85 502.04h7.8" stroke="#111" stroke-width="1.4" fill="none" />
<path d="M334.00 430.00L334.00 423.00L351.50 423.00L351.50 441.50" stroke="#111" stroke-width="1.2" fill="none" />
<text font-size="12" text-anchor="middle" font-weight="normal" transform="translate(342.8 425.1) scale(1 1)" >*</text>
<text font-size="12.5" text-anchor="middle" font-weight="bold" transform="translate(334 532) scale(1.1 1)" >2</text>
<rect x="378.80" y="513.70" width="7.50" height="1.60" fill="#222" stroke="#111" stroke-width="0.8"/>
<rect x="394.50" y="433.97" width="17.50" height="81.33" fill="#fff" stroke="#111" stroke-width="1.4"/>
<path d="M403.25 413.64L403.25 454.30M399.35 413.64h7.8M399.35 454.30h7.8" stroke="#111" stroke-width="1.4" fill="none" />
<rect x="412.00" y="492.32" width="17.50" height="22.98" fill="#2b2b2b" stroke="#111" stroke-width="1.4"/>
<path d="M420.75 479.06L420.75 505.58M416.85 479.06h7.8M416.85 505.58h7.8" stroke="#111" stroke-width="1.4" fill="none" />
<path d="M403.00 405.30L403.00 398.00L420.50 398.00L420.50 417.00" stroke="#111" stroke-width="1.2" fill="none" />
<text font-size="12" text-anchor="middle" font-weight="normal" transform="translate(411.8 400.1) scale(1 1)" >*</text>
<text font-size="12.5" text-anchor="middle" font-weight="bold" transform="translate(403.5 532) scale(1.1 1)" >3</text>
<rect x="450.80" y="513.70" width="7.50" height="1.60" fill="#222" stroke="#111" stroke-width="0.8"/>
<rect x="466.50" y="503.81" width="17.50" height="11.49" fill="#fff" stroke="#111" stroke-width="1.4"/>
<path d="M475.25 498.50L475.25 509.11M471.35 498.50h7.8M471.35 509.11h7.8" stroke="#111" stroke-width="1.4" fill="none" />
<rect x="484.00" y="513.09" width="17.50" height="2.21" fill="#2b2b2b" stroke="#111" stroke-width="1.4"/>
<path d="M492.75 512.38L492.75 513.80M488.85 512.38h7.8M488.85 513.80h7.8" stroke="#111" stroke-width="1.4" fill="none" />
<path d="M474.50 489.00L474.50 482.00L492.50 482.00L492.50 500.00" stroke="#111" stroke-width="1.2" fill="none" />
<text font-size="12" text-anchor="middle" font-weight="normal" transform="translate(483.5 484.1) scale(1 1)" >*</text>
<text font-size="12.5" text-anchor="middle" font-weight="bold" transform="translate(475 532) scale(1.1 1)" >4</text>
<!--D-->
<text font-size="16" text-anchor="start" font-weight="bold" transform="translate(8 571.3) scale(1.05 1)" >D</text>
<path d="M62 577.90L62 704.7L162.5 704.7" stroke="#111" stroke-width="1.2" fill="none" />
<path d="M56 673.0L62 673.0" stroke="#111" stroke-width="1.2" fill="none"/>
<path d="M56 641.3000000000001L62 641.3000000000001" stroke="#111" stroke-width="1.2" fill="none"/>
<path d="M56 609.6L62 609.6" stroke="#111" stroke-width="1.2" fill="none"/>
<path d="M56 577.9000000000001L62 577.9000000000001" stroke="#111" stroke-width="1.2" fill="none"/>
<text font-size="11" text-anchor="end" font-weight="bold" transform="translate(49.5 707.2) scale(1.12 1)" >0</text>
<text font-size="11" text-anchor="end" font-weight="bold" transform="translate(49.5 675.5) scale(1.12 1)" >1</text>
<text font-size="11" text-anchor="end" font-weight="bold" transform="translate(49.5 643.8000000000001) scale(1.12 1)" >2</text>
<text font-size="11" text-anchor="end" font-weight="bold" transform="translate(49.5 612.1) scale(1.12 1)" >3</text>
<text font-size="11" text-anchor="end" font-weight="bold" transform="translate(49.5 580.4000000000001) scale(1.12 1)" >4</text>
<text x="26.5" y="641.5" font-size="14" text-anchor="middle" font-weight="bold" transform="rotate(-90 26.5 641.5)" >Cell number (x10<tspan font-size="9.5" dy="-5">5</tspan><tspan dy="5">)</tspan></text>
<rect x="79.50" y="703.43" width="8.00" height="1.27" fill="#8c8c8c" stroke="#111" stroke-width="1.4"/>
<rect x="98.70" y="596.60" width="17.30" height="108.10" fill="#fff" stroke="#111" stroke-width="1.4"/>
<path d="M107.35 584.87L107.35 608.97M103.45 584.87h7.8M103.45 608.97h7.8" stroke="#111" stroke-width="1.4" fill="none" />
<rect x="116.00" y="648.91" width="16.70" height="55.79" fill="#2b2b2b" stroke="#111" stroke-width="1.4"/>
<path d="M124.35 639.08L124.35 658.74M120.45 639.08h7.8M120.45 658.74h7.8" stroke="#111" stroke-width="1.4" fill="none" />
<path d="M107.00 577.50L107.00 571.00L125.00 571.00L125.00 590.00" stroke="#111" stroke-width="1.2" fill="none" />
<text font-size="12" text-anchor="middle" font-weight="normal" transform="translate(116.0 573.1) scale(1 1)" >*</text>
<text font-size="12.5" text-anchor="middle" font-weight="bold" transform="translate(110 721.5) scale(1.1 1)" >CFSE<tspan font-size="8.5" dy="-4.5">+</tspan><tspan dy="4.5">CD69</tspan><tspan font-size="8.5" dy="-4.5">+</tspan></text>
<!--E-->
<text font-size="16" text-anchor="start" font-weight="bold" transform="translate(173 570.4) scale(1.05 1)" >E</text>
<path d="M244.3 574.20L244.3 704.6L346.6 704.6" stroke="#111" stroke-width="1.2" fill="none" />
<path d="M238.8 672.0L244.3 672.0" stroke="#111" stroke-width="1.2" fill="none"/>
<path d="M238.8 639.4L244.3 639.4" stroke="#111" stroke-width="1.2" fill="none"/>
<path d="M238.8 606.8L244.3 606.8" stroke="#111" stroke-width="1.2" fill="none"/>
<path d="M238.8 574.2L244.3 574.2" stroke="#111" stroke-width="1.2" fill="none"/>
<text font-size="11" text-anchor="end" font-weight="bold" transform="translate(236.5 707.1) scale(1.12 1)" >0</text>
<text font-size="11" text-anchor="end" font-weight="bold" transform="translate(236.5 674.5) scale(1.12 1)" >1</text>
<text font-size="11" text-anchor="end" font-weight="bold" transform="translate(236.5 641.9) scale(1.12 1)" >2</text>
<text font-size="11" text-anchor="end" font-weight="bold" transform="translate(236.5 609.3) scale(1.12 1)" >3</text>
<text font-size="11" text-anchor="end" font-weight="bold" transform="translate(236.5 576.7) scale(1.12 1)" >4</text>
<text x="200.5" y="705" font-size="12.8" text-anchor="start" font-weight="bold" transform="rotate(-90 200.5 705)" >Sample /gapdh expres-</text>
<text x="215.2" y="705" font-size="12.8" text-anchor="start" font-weight="bold" transform="rotate(-90 215.2 705)" >sion level (x10<tspan font-size="9" dy="-5">-2</tspan><tspan dy="5">)</tspan></text>
<rect x="267.30" y="699.06" width="18.30" height="5.54" fill="#8c8c8c" stroke="#111" stroke-width="1.4"/>
<path d="M276.45 696.45L276.45 701.67M272.55 696.45h7.8M272.55 701.67h7.8" stroke="#111" stroke-width="1.4" fill="none" />
<rect x="285.60" y="607.78" width="17.10" height="96.82" fill="#fff" stroke="#111" stroke-width="1.4"/>
<path d="M294.15 602.56L294.15 612.67M290.25 602.56h7.8M290.25 612.67h7.8" stroke="#111" stroke-width="1.4" fill="none" />
<rect x="302.70" y="668.09" width="17.60" height="36.51" fill="#2b2b2b" stroke="#111" stroke-width="1.4"/>
<path d="M311.50 663.85L311.50 672.00M307.60 663.85h7.8M307.60 672.00h7.8" stroke="#111" stroke-width="1.4" fill="none" />
<path d="M293.60 591.50L293.60 586.00L311.00 586.00L311.00 605.40" stroke="#111" stroke-width="1.2" fill="none" />
<text font-size="12" text-anchor="middle" font-weight="normal" transform="translate(302.3 588.1) scale(1 1)" >*</text>
<text font-size="12.5" text-anchor="middle" font-weight="bold" transform="translate(298 722) scale(1.1 1)" >IFN-γ</text>
<rect x="395.00" y="618.50" width="8.00" height="8.00" fill="#8c8c8c" stroke="#111" stroke-width="1.1"/>
<text font-size="12.5" text-anchor="start" font-weight="bold" transform="translate(408.5 626.9) scale(1.06 1)" >B6:OVA-</text>
<rect x="395.00" y="638.00" width="8.00" height="8.00" fill="#fff" stroke="#111" stroke-width="1.1"/>
<text font-size="12.5" text-anchor="start" font-weight="bold" transform="translate(408.5 646.4) scale(1.06 1)" >B6:OVA+</text>
<rect x="395.00" y="657.00" width="8.00" height="8.00" fill="#2b2b2b" stroke="#111" stroke-width="1.1"/>
<text font-size="12.5" text-anchor="start" font-weight="bold" transform="translate(408.5 665.4) scale(1.06 1)" >mDia1<tspan font-size="10" dy="-4.5">-/-</tspan><tspan dy="4.5">:OVA+</tspan></text>
<!--F-->
<text font-size="15.5" text-anchor="start" font-weight="bold" transform="translate(10 737.5) scale(1.05 1)" >F</text>
<path d="M62 754.32L62 858.8L144 858.8" stroke="#111" stroke-width="1.2" fill="none" />
<path d="M56 832.68L62 832.68" stroke="#111" stroke-width="1.2" fill="none"/>
<path d="M56 806.56L62 806.56" stroke="#111" stroke-width="1.2" fill="none"/>
<path d="M56 780.4399999999999L62 780.4399999999999" stroke="#111" stroke-width="1.2" fill="none"/>
<path d="M56 754.3199999999999L62 754.3199999999999" stroke="#111" stroke-width="1.2" fill="none"/>
<text font-size="11" text-anchor="end" font-weight="bold" transform="translate(52 861.3) scale(1.12 1)" >0</text>
<text font-size="11" text-anchor="end" font-weight="bold" transform="translate(52 835.18) scale(1.12 1)" >4</text>
<text font-size="11" text-anchor="end" font-weight="bold" transform="translate(52 809.06) scale(1.12 1)" >8</text>
<text font-size="11" text-anchor="end" font-weight="bold" transform="translate(52 782.9399999999999) scale(1.12 1)" >12</text>
<text font-size="11" text-anchor="end" font-weight="bold" transform="translate(52 756.8199999999999) scale(1.12 1)" >16</text>
<text x="26.5" y="807.5" font-size="14" text-anchor="middle" font-weight="bold" transform="rotate(-90 26.5 807.5)" >Cell number (x10<tspan font-size="9.5" dy="-5">4</tspan><tspan dy="5">)</tspan></text>
<rect x="76.80" y="852.92" width="17.20" height="5.88" fill="#8c8c8c" stroke="#111" stroke-width="1.4"/>
<path d="M85.40 849.66L85.40 856.19M81.50 849.66h7.8M81.50 856.19h7.8" stroke="#111" stroke-width="1.4" fill="none" />
<rect x="94.00" y="775.87" width="17.80" height="82.93" fill="#fff" stroke="#111" stroke-width="1.4"/>
<path d="M102.90 766.73L102.90 785.34M99.00 766.73h7.8M99.00 785.34h7.8" stroke="#111" stroke-width="1.4" fill="none" />
<rect x="111.80" y="819.62" width="17.20" height="39.18" fill="#2b2b2b" stroke="#111" stroke-width="1.4"/>
<path d="M120.40 809.17L120.40 831.37M116.50 809.17h7.8M116.50 831.37h7.8" stroke="#111" stroke-width="1.4" fill="none" />
<path d="M104.00 758.00L104.00 751.30L121.00 751.30L121.00 770.30" stroke="#111" stroke-width="1.2" fill="none" />
<text font-size="12" text-anchor="middle" font-weight="normal" transform="translate(112.5 753.4) scale(1 1)" >*</text>
<text font-size="12.5" text-anchor="middle" font-weight="bold" transform="translate(106 878.5) scale(1.1 1)" >CFSE<tspan font-size="8.5" dy="-4.5">+</tspan><tspan dy="4.5">CD8</tspan><tspan font-size="8.5" dy="-4.5">+</tspan></text>
<text font-size="12.5" text-anchor="middle" font-weight="bold" transform="translate(106 894) scale(1.1 1)" >total</text>
<path d="M162.4 754.32L162.4 858.8L511 858.8" stroke="#111" stroke-width="1.2" fill="none" />
<path d="M156.5 832.68L162.4 832.68" stroke="#111" stroke-width="1.2" fill="none"/>
<text font-size="11" text-anchor="end" font-weight="bold" transform="translate(152.5 835.18) scale(1.12 1)" >2</text>
<path d="M156.5 806.56L162.4 806.56" stroke="#111" stroke-width="1.2" fill="none"/>
<text font-size="11" text-anchor="end" font-weight="bold" transform="translate(152.5 809.06) scale(1.12 1)" >4</text>
<path d="M156.5 780.4399999999999L162.4 780.4399999999999" stroke="#111" stroke-width="1.2" fill="none"/>
<text font-size="11" text-anchor="end" font-weight="bold" transform="translate(152.5 782.9399999999999) scale(1.12 1)" >6</text>
<path d="M156.5 754.3199999999999L162.4 754.3199999999999" stroke="#111" stroke-width="1.2" fill="none"/>
<text font-size="11" text-anchor="end" font-weight="bold" transform="translate(152.5 756.8199999999999) scale(1.12 1)" >8</text>
<rect x="175.50" y="856.84" width="17.40" height="1.96" fill="#8c8c8c" stroke="#111" stroke-width="1.4"/>
<path d="M184.20 856.32L184.20 857.36M180.30 856.32h7.8M180.30 857.36h7.8" stroke="#111" stroke-width="1.4" fill="none" />
<rect x="192.90" y="845.74" width="17.40" height="13.06" fill="#fff" stroke="#111" stroke-width="1.4"/>
<path d="M201.60 844.43L201.60 847.05M197.70 844.43h7.8M197.70 847.05h7.8" stroke="#111" stroke-width="1.4" fill="none" />
<rect x="210.30" y="852.27" width="17.40" height="6.53" fill="#2b2b2b" stroke="#111" stroke-width="1.4"/>
<path d="M219.00 849.66L219.00 854.88M215.10 849.66h7.8M215.10 854.88h7.8" stroke="#111" stroke-width="1.4" fill="none" />
<path d="M201.00 830.40L201.00 824.00L219.00 824.00L219.00 843.80" stroke="#111" stroke-width="1.2" fill="none" />
<text font-size="12" text-anchor="middle" font-weight="normal" transform="translate(210.0 826.1) scale(1 1)" >*</text>
<rect x="242.30" y="857.23" width="17.40" height="1.57" fill="#8c8c8c" stroke="#111" stroke-width="1.4"/>
<path d="M251.00 856.84L251.00 857.62M247.10 856.84h7.8M247.10 857.62h7.8" stroke="#111" stroke-width="1.4" fill="none" />
<rect x="259.70" y="847.70" width="17.40" height="11.10" fill="#fff" stroke="#111" stroke-width="1.4"/>
<path d="M268.40 847.05L268.40 848.35M264.50 847.05h7.8M264.50 848.35h7.8" stroke="#111" stroke-width="1.4" fill="none" />
<rect x="277.10" y="853.58" width="17.40" height="5.22" fill="#2b2b2b" stroke="#111" stroke-width="1.4"/>
<path d="M285.80 852.92L285.80 854.23M281.90 852.92h7.8M281.90 854.23h7.8" stroke="#111" stroke-width="1.4" fill="none" />
<path d="M268.00 830.40L268.00 824.00L286.50 824.00L286.50 843.80" stroke="#111" stroke-width="1.2" fill="none" />
<text font-size="12" text-anchor="middle" font-weight="normal" transform="translate(277.2 826.1) scale(1 1)" >*</text>
<rect x="309.60" y="855.93" width="17.40" height="2.87" fill="#8c8c8c" stroke="#111" stroke-width="1.4"/>
<path d="M318.30 855.27L318.30 856.58M314.40 855.27h7.8M314.40 856.58h7.8" stroke="#111" stroke-width="1.4" fill="none" />
<rect x="327.00" y="826.80" width="17.40" height="32.00" fill="#fff" stroke="#111" stroke-width="1.4"/>
<path d="M335.70 821.58L335.70 832.03M331.80 821.58h7.8M331.80 832.03h7.8" stroke="#111" stroke-width="1.4" fill="none" />
<rect x="344.40" y="844.43" width="17.40" height="14.37" fill="#2b2b2b" stroke="#111" stroke-width="1.4"/>
<path d="M353.10 840.52L353.10 848.35M349.20 840.52h7.8M349.20 848.35h7.8" stroke="#111" stroke-width="1.4" fill="none" />
<path d="M335.40 809.20L335.40 803.50L353.80 803.50L353.80 821.50" stroke="#111" stroke-width="1.2" fill="none" />
<text font-size="12" text-anchor="middle" font-weight="normal" transform="translate(344.6 805.6) scale(1 1)" >*</text>
<rect x="377.00" y="856.45" width="17.40" height="2.35" fill="#8c8c8c" stroke="#111" stroke-width="1.4"/>
<path d="M385.70 855.80L385.70 857.10M381.80 855.80h7.8M381.80 857.10h7.8" stroke="#111" stroke-width="1.4" fill="none" />
<rect x="394.40" y="789.58" width="17.40" height="69.22" fill="#fff" stroke="#111" stroke-width="1.4"/>
<path d="M403.10 779.13L403.10 800.03M399.20 779.13h7.8M399.20 800.03h7.8" stroke="#111" stroke-width="1.4" fill="none" />
<rect x="411.80" y="826.15" width="17.40" height="32.65" fill="#2b2b2b" stroke="#111" stroke-width="1.4"/>
<path d="M420.50 811.78L420.50 840.52M416.60 811.78h7.8M416.60 840.52h7.8" stroke="#111" stroke-width="1.4" fill="none" />
<path d="M406.50 769.60L406.50 763.80L424.60 763.80L424.60 783.00" stroke="#111" stroke-width="1.2" fill="none" />
<text font-size="12" text-anchor="middle" font-weight="normal" transform="translate(415.6 765.9) scale(1 1)" >*</text>
<rect x="445.80" y="856.45" width="17.40" height="2.35" fill="#8c8c8c" stroke="#111" stroke-width="1.4"/>
<path d="M454.50 855.80L454.50 857.10M450.60 855.80h7.8M450.60 857.10h7.8" stroke="#111" stroke-width="1.4" fill="none" />
<rect x="463.20" y="826.15" width="17.40" height="32.65" fill="#fff" stroke="#111" stroke-width="1.4"/>
<path d="M471.90 825.24L471.90 827.06M468.00 825.24h7.8M468.00 827.06h7.8" stroke="#111" stroke-width="1.4" fill="none" />
<rect x="480.60" y="843.78" width="17.40" height="15.02" fill="#2b2b2b" stroke="#111" stroke-width="1.4"/>
<path d="M489.30 842.21L489.30 845.35M485.40 842.21h7.8M485.40 845.35h7.8" stroke="#111" stroke-width="1.4" fill="none" />
<path d="M472.70 809.20L472.70 803.50L490.40 803.50L490.40 821.50" stroke="#111" stroke-width="1.2" fill="none" />
<text font-size="12" text-anchor="middle" font-weight="normal" transform="translate(481.5 805.6) scale(1 1)" >*</text>
<text font-size="12.5" text-anchor="middle" font-weight="bold" transform="translate(202 876) scale(1.1 1)" >0</text>
<text font-size="12.5" text-anchor="middle" font-weight="bold" transform="translate(269 876) scale(1.1 1)" >1</text>
<text font-size="12.5" text-anchor="middle" font-weight="bold" transform="translate(336.5 876) scale(1.1 1)" >2</text>
<text font-size="12.5" text-anchor="middle" font-weight="bold" transform="translate(403.5 876) scale(1.1 1)" >3</text>
<text font-size="12.5" text-anchor="middle" font-weight="bold" transform="translate(472.7 876) scale(1.1 1)" >4</text>
<path d="M164.5 882L512 882" stroke="#111" stroke-width="1.5" fill="none"/>
<text font-size="12.5" text-anchor="middle" font-weight="bold" transform="translate(336 897) scale(1.1 1)" >Number of divisions</text>
<!--G-->
<text font-size="15.5" text-anchor="start" font-weight="bold" transform="translate(9.5 912) scale(1.05 1)" >G</text>
<path d="M58.2 948.56L58.2 1057.4L161.8 1057.4" stroke="#111" stroke-width="1.2" fill="none" />
<path d="M54 1021.1200000000001L58.2 1021.1200000000001" stroke="#111" stroke-width="1.2" fill="none"/>
<path d="M54 984.8400000000001L58.2 984.8400000000001" stroke="#111" stroke-width="1.2" fill="none"/>
<path d="M54 948.5600000000001L58.2 948.5600000000001" stroke="#111" stroke-width="1.2" fill="none"/>
<text font-size="11" text-anchor="end" font-weight="bold" transform="translate(51 1059.9) scale(1.12 1)" >0</text>
<text font-size="11" text-anchor="end" font-weight="bold" transform="translate(51 1023.6200000000001) scale(1.12 1)" >0.4</text>
<text font-size="11" text-anchor="end" font-weight="bold" transform="translate(51 987.3400000000001) scale(1.12 1)" >0.8</text>
<text font-size="11" text-anchor="end" font-weight="bold" transform="translate(51 951.0600000000001) scale(1.12 1)" >1.2</text>
<text x="27" y="996" font-size="14" text-anchor="middle" font-weight="bold" transform="rotate(-90 27 996)" >Footpad swelling (mm)</text>
<rect x="73.20" y="1005.70" width="17.30" height="51.70" fill="#d4d4d4" stroke="#111" stroke-width="1.4"/>
<path d="M81.85 995.27L81.85 1017.04M77.95 995.27h7.8M77.95 1017.04h7.8" stroke="#111" stroke-width="1.4" fill="none" />
<rect x="90.50" y="974.86" width="17.30" height="82.54" fill="#fff" stroke="#111" stroke-width="1.4"/>
<path d="M99.15 964.89L99.15 984.84M95.25 964.89h7.8M95.25 984.84h7.8" stroke="#111" stroke-width="1.4" fill="none" />
<rect x="107.80" y="1005.70" width="17.40" height="51.70" fill="#757575" stroke="#111" stroke-width="1.4"/>
<path d="M116.50 998.45L116.50 1012.05M112.60 998.45h7.8M112.60 1012.05h7.8" stroke="#111" stroke-width="1.4" fill="none" />
<rect x="125.20" y="991.19" width="17.60" height="66.21" fill="#2b2b2b" stroke="#111" stroke-width="1.4"/>
<path d="M134.00 988.92L134.00 993.46M130.10 988.92h7.8M130.10 993.46h7.8" stroke="#111" stroke-width="1.4" fill="none" />
<path d="M99.00 955.00L99.00 948.60L134.00 948.60L134.00 969.00" stroke="#111" stroke-width="1.2" fill="none" />
<text font-size="12" text-anchor="middle" font-weight="normal" transform="translate(116.5 950.7) scale(1 1)" >*</text>
<text font-size="12.5" text-anchor="middle" font-weight="bold" transform="translate(107 1073) scale(1.1 1)" >48h</text>
<rect x="148.00" y="930.50" width="8.00" height="8.00" fill="#d4d4d4" stroke="#111" stroke-width="1.1"/>
<text font-size="12" text-anchor="start" font-weight="bold" transform="translate(161 938.9) scale(1.04 1)" >B6:S-C+</text>
<rect x="148.00" y="946.70" width="8.00" height="8.00" fill="#fff" stroke="#111" stroke-width="1.1"/>
<text font-size="12" text-anchor="start" font-weight="bold" transform="translate(161 955.1) scale(1.04 1)" >B6:S+C+</text>
<rect x="148.00" y="963.00" width="8.00" height="8.00" fill="#757575" stroke="#111" stroke-width="1.1"/>
<text font-size="12" text-anchor="start" font-weight="bold" transform="translate(161 971.4) scale(1.04 1)" >mDia1<tspan font-size="10" dy="-4.5">-/-</tspan><tspan dy="4.5">:S-C+</tspan></text>
<rect x="148.00" y="978.70" width="8.00" height="8.00" fill="#2b2b2b" stroke="#111" stroke-width="1.1"/>
<text font-size="12" text-anchor="start" font-weight="bold" transform="translate(161 987.1) scale(1.04 1)" >mDia1<tspan font-size="10" dy="-4.5">-/-</tspan><tspan dy="4.5">:S+C+</tspan></text>
<!--H-->
<text font-size="15.5" text-anchor="start" font-weight="bold" transform="translate(239 913) scale(1.05 1)" >H</text>
<path d="M295.8 938.60L295.8 1058L450.3 1058" stroke="#111" stroke-width="1.2" fill="none" />
<path d="M291.5 1018.2L295.8 1018.2" stroke="#111" stroke-width="1.2" fill="none"/>
<path d="M291.5 978.4L295.8 978.4" stroke="#111" stroke-width="1.2" fill="none"/>
<path d="M291.5 938.6L295.8 938.6" stroke="#111" stroke-width="1.2" fill="none"/>
<text font-size="11" text-anchor="end" font-weight="bold" transform="translate(286 1060.5) scale(1.12 1)" >0</text>
<text font-size="11" text-anchor="end" font-weight="bold" transform="translate(286 1020.7) scale(1.12 1)" >0.4</text>
<text font-size="11" text-anchor="end" font-weight="bold" transform="translate(286 980.9) scale(1.12 1)" >0.8</text>
<text font-size="11" text-anchor="end" font-weight="bold" transform="translate(286 941.1) scale(1.12 1)" >1.2</text>
<text x="263" y="996" font-size="14" text-anchor="middle" font-weight="bold" transform="rotate(-90 263 996)" >Footpad swelling (mm)</text>
<rect x="312.40" y="1008.75" width="18.00" height="49.25" fill="#8c8c8c" stroke="#111" stroke-width="1.4"/>
<path d="M321.40 1000.79L321.40 1016.71M317.50 1000.79h7.8M317.50 1016.71h7.8" stroke="#111" stroke-width="1.4" fill="none" />
<rect x="330.40" y="971.83" width="17.30" height="86.17" fill="#fff" stroke="#111" stroke-width="1.4"/>
<path d="M339.05 960.49L339.05 984.37M335.15 960.49h7.8M335.15 984.37h7.8" stroke="#111" stroke-width="1.4" fill="none" />
<rect x="347.70" y="1003.57" width="18.00" height="54.43" fill="#2b2b2b" stroke="#111" stroke-width="1.4"/>
<path d="M356.70 990.84L356.70 1016.21M352.80 990.84h7.8M352.80 1016.21h7.8" stroke="#111" stroke-width="1.4" fill="none" />
<path d="M339.00 951.20L339.00 944.00L357.40 944.00L357.40 964.00" stroke="#111" stroke-width="1.2" fill="none" />
<text font-size="12" text-anchor="middle" font-weight="normal" transform="translate(348.2 946.1) scale(1 1)" >*</text>
<rect x="381.70" y="1035.41" width="17.30" height="22.59" fill="#8c8c8c" stroke="#111" stroke-width="1.4"/>
<path d="M390.35 1033.12L390.35 1037.60M386.45 1033.12h7.8M386.45 1037.60h7.8" stroke="#111" stroke-width="1.4" fill="none" />
<rect x="399.00" y="1023.27" width="17.30" height="34.73" fill="#fff" stroke="#111" stroke-width="1.4"/>
<path d="M407.65 1017.21L407.65 1029.64M403.75 1017.21h7.8M403.75 1029.64h7.8" stroke="#111" stroke-width="1.4" fill="none" />
<rect x="416.30" y="1035.41" width="17.70" height="22.59" fill="#2b2b2b" stroke="#111" stroke-width="1.4"/>
<path d="M425.15 1030.64L425.15 1041.09M421.25 1030.64h7.8M421.25 1041.09h7.8" stroke="#111" stroke-width="1.4" fill="none" />
<path d="M408.20 1008.80L408.20 1002.30L425.80 1002.30L425.80 1029.70" stroke="#111" stroke-width="1.2" fill="none" />
<text font-size="12" text-anchor="middle" font-weight="normal" transform="translate(417.0 1004.4) scale(1 1)" >*</text>
<text font-size="12.5" text-anchor="middle" font-weight="bold" transform="translate(340 1073.5) scale(1.1 1)" >24h</text>
<text font-size="12.5" text-anchor="middle" font-weight="bold" transform="translate(407 1073.5) scale(1.1 1)" >48h</text>
<rect x="390.00" y="921.50" width="8.00" height="8.00" fill="#8c8c8c" stroke="#111" stroke-width="1.1"/>
<text font-size="11.5" text-anchor="start" font-weight="bold" transform="translate(404 929.9) scale(1.03 1)" >BMDC-</text>
<rect x="390.00" y="941.80" width="8.00" height="8.00" fill="#fff" stroke="#111" stroke-width="1.1"/>
<text font-size="11.5" text-anchor="start" font-weight="bold" transform="translate(404 950.1999999999999) scale(1.03 1)" >B6:BMDC+</text>
<rect x="390.00" y="962.30" width="8.00" height="8.00" fill="#2b2b2b" stroke="#111" stroke-width="1.1"/>
<text font-size="11.5" text-anchor="start" font-weight="bold" transform="translate(404 970.6999999999999) scale(1.03 1)" >mDia1<tspan font-size="10" dy="-4.5">-/-</tspan><tspan dy="4.5">:BMDC+</tspan></text>
</svg></body></html>
